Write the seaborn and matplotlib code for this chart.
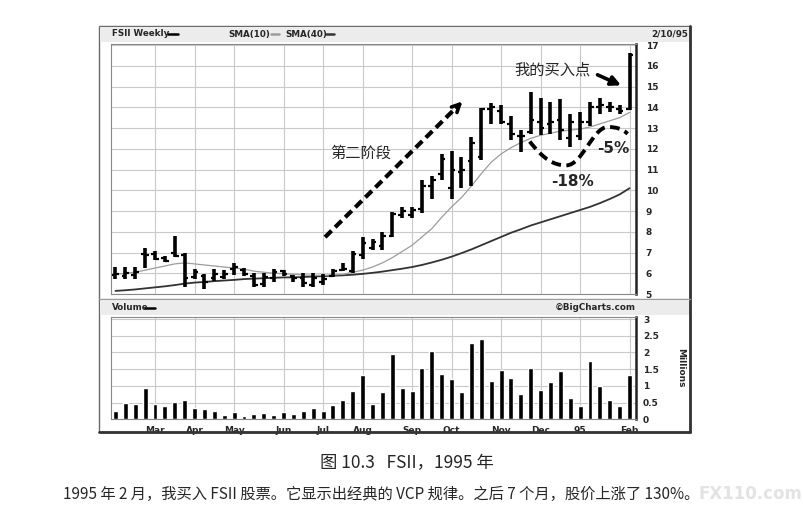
import numpy as np
import pandas as pd
import matplotlib
matplotlib.use("Agg")
import matplotlib.pyplot as plt
import seaborn as sns
from matplotlib.patches import Rectangle, PathPatch
from matplotlib.path import Path
from matplotlib.lines import Line2D

# FSII weekly bars, Feb 1994 - Feb 1995
week_high = [6.30, 6.30, 6.30, 7.20, 7.05, 6.85, 7.80, 7.00, 6.20, 5.95,
             6.20, 6.15, 6.50, 6.25, 6.00, 6.00, 6.20, 6.15, 5.90, 6.00,
             6.00, 5.95, 6.20, 6.50, 7.05, 7.75, 7.65, 8.00, 8.95, 9.20,
             9.20, 10.50, 10.70, 11.75, 11.90, 11.60, 12.55, 13.95, 14.20, 14.10,
             13.60, 12.90, 14.75, 14.45, 14.25, 14.40, 13.70, 13.75, 14.25, 14.45,
             14.25, 14.10, 16.60]
week_low = [5.70, 5.70, 5.72, 6.25, 6.65, 6.55, 6.80, 5.35, 5.70, 5.25,
            5.65, 5.70, 5.90, 5.85, 5.35, 5.35, 5.60, 5.85, 5.60, 5.35,
            5.35, 5.45, 5.80, 6.10, 6.00, 6.70, 7.10, 7.10, 7.75, 8.65,
            8.65, 8.90, 9.60, 10.50, 9.60, 10.10, 10.20, 11.45, 13.20, 13.20,
            12.40, 11.85, 12.70, 12.65, 12.70, 12.40, 12.10, 12.40, 13.10, 13.70,
            13.75, 13.70, 13.85]
week_open = [5.90, 5.85, 5.90, 6.95, 6.95, 6.75, 7.00, 6.90, 5.80, 5.85,
             5.75, 5.80, 6.20, 6.15, 5.85, 5.50, 5.75, 6.10, 5.85, 5.75,
             5.45, 5.60, 5.85, 6.15, 6.10, 6.90, 7.20, 7.30, 7.80, 8.80,
             8.80, 9.10, 10.20, 10.80, 10.10, 10.90, 11.40, 11.60, 13.90, 13.80,
             13.20, 12.60, 12.80, 13.30, 13.20, 13.40, 12.50, 12.60, 13.30, 14.00,
             14.00, 13.90, 13.90]
week_close = [5.95, 6.00, 6.05, 6.90, 6.70, 6.60, 6.85, 5.75, 6.05, 5.60,
              5.95, 5.95, 6.30, 5.95, 5.45, 5.80, 6.05, 5.95, 5.75, 5.55,
              5.75, 5.70, 6.10, 6.20, 6.95, 7.45, 7.50, 7.80, 8.85, 9.00,
              9.05, 10.20, 10.50, 11.50, 11.00, 11.00, 12.30, 13.90, 14.00, 13.30,
              12.70, 12.60, 13.40, 13.00, 13.30, 12.90, 13.30, 13.30, 14.00, 14.10,
              14.00, 13.80, 16.50]
sma10 = [5.95, 6.00, 6.05, 6.15, 6.25, 6.35, 6.45, 6.50, 6.45, 6.40,
         6.35, 6.30, 6.25, 6.20, 6.10, 6.05, 6.00, 5.98, 5.95, 5.92,
         5.90, 5.90, 5.92, 5.95, 6.05, 6.15, 6.30, 6.50, 6.75, 7.05,
         7.35, 7.75, 8.15, 8.70, 9.20, 9.65, 10.20, 10.80, 11.35, 11.75,
         12.05, 12.30, 12.50, 12.65, 12.75, 12.85, 12.90, 12.95, 13.05, 13.20,
         13.35, 13.50, 13.75]
sma40 = [5.15, 5.18, 5.22, 5.27, 5.32, 5.37, 5.43, 5.50, 5.55, 5.58,
         5.62, 5.65, 5.68, 5.72, 5.74, 5.76, 5.78, 5.80, 5.80, 5.82,
         5.84, 5.86, 5.88, 5.90, 5.93, 5.97, 6.02, 6.08, 6.15, 6.22,
         6.30, 6.40, 6.52, 6.65, 6.80, 6.97, 7.15, 7.35, 7.55, 7.75,
         7.95, 8.12, 8.30, 8.45, 8.60, 8.75, 8.90, 9.05, 9.20, 9.38,
         9.58, 9.80, 10.10]
volume = [0.26, 0.50, 0.45, 0.93, 0.47, 0.41, 0.52, 0.59, 0.33, 0.31,
          0.24, 0.12, 0.21, 0.10, 0.16, 0.19, 0.14, 0.21, 0.17, 0.26,
          0.33, 0.26, 0.42, 0.59, 0.85, 1.34, 0.47, 0.81, 1.96, 0.95,
          0.85, 1.52, 2.03, 1.35, 1.21, 0.82, 2.29, 2.39, 1.15, 1.47,
          1.25, 0.77, 1.54, 0.87, 1.11, 1.44, 0.65, 0.41, 1.73, 1.00,
          0.58, 0.41, 1.34]
month_labels = ['Mar', 'Apr', 'May', 'Jun', 'Jul', 'Aug', 'Sep', 'Oct',
                'Nov', 'Dec', '95', 'Feb']
price_ticks = list(range(5, 18))
volume_ticks = [0, 0.5, 1, 1.5, 2, 2.5, 3]
volume_tick_labels = ['0', '0.5', '1', '1.5', '2', '2.5', '3']

weeks = np.arange(len(volume))
week_start = pd.date_range('1994-02-07', periods=len(volume), freq='W-MON')
month_pos = [i for i in range(1, len(week_start))
             if week_start[i].month != week_start[i - 1].month]

df_vol = pd.DataFrame({'week': weeks, 'volume': volume})

sns.set_theme(style="white")
plt.rcParams['font.family'] = ['Noto Sans CJK SC', 'DejaVu Sans']
plt.rcParams['axes.unicode_minus'] = False

W, H = 804, 513


def fx(px):
    return px / W


def fy(py):
    return 1 - py / H


fig = plt.figure(figsize=(8.04, 5.13), dpi=100)
fig.patch.set_facecolor('white')

# 外框 + 标题栏底色
fig.add_artist(Rectangle((fx(99), fy(432)), fx(690) - fx(99), fy(26) - fy(432),
                         transform=fig.transFigure, fill=False, ec='#6a6a6a', lw=1.0))
fig.add_artist(Rectangle((fx(100), fy(42)), fx(689) - fx(100), fy(27) - fy(42),
                         transform=fig.transFigure, fc='#ececec', ec='none'))
fig.add_artist(Rectangle((fx(100), fy(315)), fx(689) - fx(100), fy(301) - fy(315),
                         transform=fig.transFigure, fc='#ececec', ec='none'))
fig.add_artist(Line2D([fx(99), fx(690)], [fy(432), fy(432)], transform=fig.transFigure,
                      color='#333333', lw=2.0))
fig.add_artist(Line2D([fx(690), fx(690)], [fy(432), fy(26)], transform=fig.transFigure,
                      color='#333333', lw=2.0))
fig.add_artist(Line2D([fx(99), fx(690)], [fy(299), fy(299)], transform=fig.transFigure,
                      color='#9a9a9a', lw=1.0))

ax_p = fig.add_axes([fx(111), fy(294), fx(636) - fx(111), fy(44) - fy(294)])
ax_v = fig.add_axes([fx(111), fy(419.3), fx(636) - fx(111), fy(317) - fy(419.3)])

grid_kw = dict(color='#c9c9c9', lw=0.8)
tick_kw = dict(fontsize=6.5, fontweight='bold', family='DejaVu Sans')

# ---- 价格面板 ----
sns.lineplot(x=weeks, y=sma40, color='#333333', lw=1.3, ax=ax_p)
sns.lineplot(x=weeks, y=sma10, color='#9c9c9c', lw=0.9, ax=ax_p)
ax_p.vlines(weeks, week_low, week_high, color='black', lw=2.6)
ax_p.hlines(week_open, weeks - 0.38, weeks, color='black', lw=1.6)
ax_p.hlines(week_close, weeks, weeks + 0.38, color='black', lw=1.6)

ax_p.set_xlim(-0.45, 52.65)
ax_p.set_ylim(5, 17.05)
ax_p.set_yticks(price_ticks)
ax_p.set_yticklabels([str(t) for t in price_ticks], **tick_kw)
ax_p.set_xticks(month_pos)
ax_p.set_xticklabels([])
ax_p.yaxis.tick_right()
ax_p.tick_params(length=0, pad=7)
ax_p.grid(True, **grid_kw)
ax_p.set_axisbelow(True)
for s in ax_p.spines.values():
    s.set_color('#888888')
    s.set_linewidth(0.8)
ax_p.spines['right'].set_color('#222222')
ax_p.spines['right'].set_linewidth(1.8)
ax_p.set_xlabel('')
ax_p.set_ylabel('')

# 第二阶段 箭头
ax_p.plot([21.2, 34.6], [7.74, 14.05], color='black', lw=3, ls=(0, (2.2, 1.2)))
ax_p.annotate('', xy=(35.3, 14.38), xytext=(34.3, 13.9),
              arrowprops=dict(arrowstyle='->', color='black', lw=2.6, mutation_scale=14))
ax_p.text(24.8, 11.8, '第二阶段', fontsize=11, ha='center', va='center')

# 买入点
ax_p.text(44.2, 15.8, '我的买入点', fontsize=11, ha='center', va='center')
ax_p.annotate('', xy=(51.4, 15.0), xytext=(48.5, 15.62),
              arrowprops=dict(arrowstyle='-|>', color='black', lw=2.6, mutation_scale=14))

# VCP 虚线波形
wave = Path([(41.9, 12.35), (43.3, 11.5), (44.3, 11.2), (45.6, 11.2),
             (47.2, 11.2), (48.3, 13.05), (49.8, 13.05),
             (50.7, 13.05), (51.3, 12.95), (51.8, 12.72)],
            [Path.MOVETO] + [Path.CURVE4] * 9)
ax_p.add_patch(PathPatch(wave, fill=False, ec='black', lw=2.8, ls=(0, (2.5, 1.4))))
ax_p.text(50.3, 12.0, '-5%', fontsize=11, fontweight='bold', ha='center', va='center',
          family='DejaVu Sans')
ax_p.text(46.2, 10.4, '-18%', fontsize=11, fontweight='bold', ha='center', va='center',
          family='DejaVu Sans')

# ---- 成交量面板 ----
sns.barplot(data=df_vol, x='week', y='volume', color='black', width=0.5,
            saturation=1, ax=ax_v)
ax_v.set_xlim(-0.45, 52.65)
ax_v.set_ylim(0, 3.06)
ax_v.set_yticks(volume_ticks)
ax_v.set_yticklabels(volume_tick_labels, **tick_kw)
ax_v.set_xticks(month_pos)
ax_v.set_xticklabels(month_labels, **tick_kw)
ax_v.yaxis.tick_right()
ax_v.tick_params(length=0, pad=5)
ax_v.grid(True, **grid_kw)
ax_v.set_axisbelow(True)
for s in ax_v.spines.values():
    s.set_color('#888888')
    s.set_linewidth(0.8)
ax_v.spines['right'].set_color('#222222')
ax_v.spines['right'].set_linewidth(1.8)
ax_v.set_xlabel('')
ax_v.set_ylabel('')
fig.text(fx(681), fy(368), 'Millions', rotation=270, ha='center', va='center', **tick_kw)

# ---- 标题栏文字 ----
hdr_kw = dict(fontsize=6.3, fontweight='bold', family='DejaVu Sans', va='center')
fig.text(fx(112), fy(34), 'FSII Weekly', **hdr_kw)
fig.text(fx(228), fy(34), 'SMA(10)', **hdr_kw)
fig.text(fx(285), fy(34), 'SMA(40)', **hdr_kw)
fig.text(fx(688), fy(34), '2/10/95', ha='right', **hdr_kw)
fig.add_artist(Line2D([fx(168), fx(178)], [fy(34), fy(34)], transform=fig.transFigure,
                      color='black', lw=1.8))
fig.add_artist(Line2D([fx(271), fx(279)], [fy(34), fy(34)], transform=fig.transFigure,
                      color='#9c9c9c', lw=1.8))
fig.add_artist(Line2D([fx(326), fx(334)], [fy(34), fy(34)], transform=fig.transFigure,
                      color='#333333', lw=1.8))
fig.text(fx(112), fy(308), 'Volume', **hdr_kw)
fig.add_artist(Line2D([fx(145), fx(155)], [fy(308), fy(308)], transform=fig.transFigure,
                      color='black', lw=1.8))
fig.text(fx(636), fy(308), '©BigCharts.com', ha='right', **hdr_kw)

# ---- 图注 ----
fig.text(fx(407), fy(463), '图 10.3   FSII，1995 年', fontsize=12.5, ha='center', va='center')
fig.text(fx(63), fy(494),
         '1995 年 2 月，我买入 FSII 股票。它显示出经典的 VCP 规律。之后 7 个月，股价上涨了 130%。',
         fontsize=11, ha='left', va='center')
fig.text(fx(750), fy(494), 'FX110.com', fontsize=12, fontweight='bold', color='#e3e3e3',
         ha='center', va='center', family='DejaVu Sans')

plt.savefig('out.png', dpi=100)
plt.close()
